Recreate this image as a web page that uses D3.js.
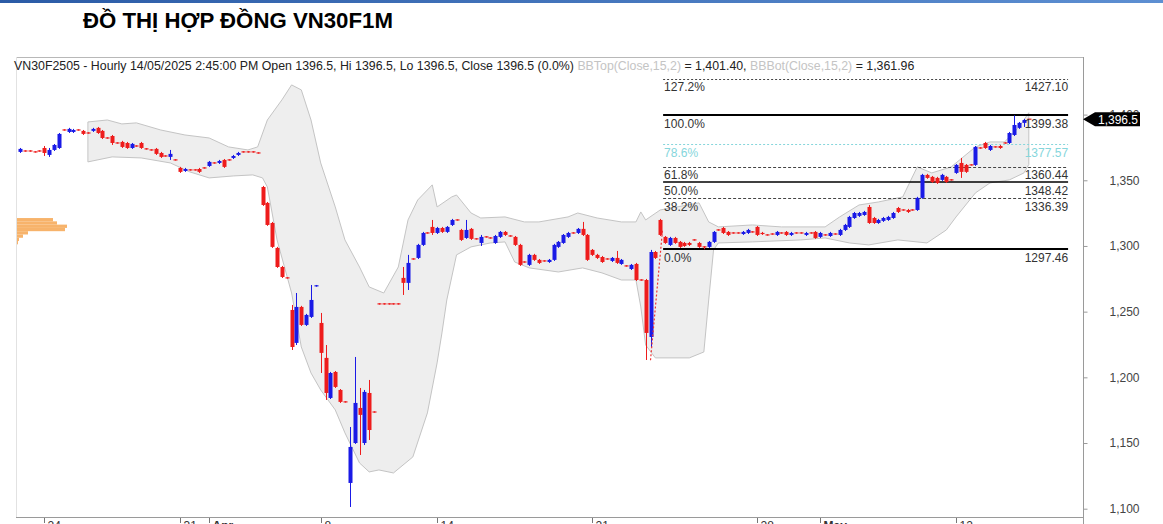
<!DOCTYPE html>
<html><head><meta charset="utf-8">
<script src="https://cdn.jsdelivr.net/npm/d3@7"></script>
<style>body{margin:0;background:#fff;overflow:hidden} svg{display:block;font-family:Arial,"Liberation Sans",sans-serif}</style>
</head><body><svg id="c" width="1163" height="524"></svg>
<script>
// ---- data (prices) ----
const candles = [ // [open, high, low, close]
[1371.6,1374.6,1370.8,1373.9],[1372.3,1372.8,1371.8,1372.3],[1372.3,1372.8,1371.8,1372.3],[1371.6,1372.1,1371.1,1371.6],[1372.3,1372.8,1371.8,1372.3],
[1374.6,1376.1,1368.5,1370.8],[1369.3,1374.6,1367.8,1373.1],[1373.1,1377.6,1372.3,1376.9],[1374.6,1386.0,1373.9,1385.3],[1388.3,1388.8,1387.8,1388.3],
[1386.8,1389.9,1386.0,1389.1],[1386.8,1389.1,1386.0,1388.3],[1388.3,1388.8,1387.8,1388.3],[1387.6,1388.3,1384.5,1385.3],[1386.0,1386.5,1385.5,1386.0],
[1387.6,1389.9,1386.8,1389.1],[1389.9,1390.6,1385.3,1386.0],[1387.6,1388.3,1381.4,1382.2],[1382.2,1382.7,1381.7,1382.2],[1383.7,1384.5,1376.9,1378.4],
[1378.4,1378.9,1377.9,1378.4],[1379.2,1380.0,1374.6,1375.4],[1378.4,1379.2,1373.9,1374.6],[1374.6,1378.4,1373.9,1377.7],[1376.1,1376.6,1375.6,1376.1],
[1378.4,1379.2,1373.9,1374.6],[1373.9,1374.4,1373.4,1373.9],[1373.1,1373.6,1372.6,1373.1],[1373.9,1374.6,1369.3,1370.1],[1370.8,1371.6,1367.0,1367.8],
[1368.5,1369.0,1368.0,1368.5],[1367.8,1373.1,1365.5,1370.1],[1365.5,1366.0,1365.0,1365.5],[1359.4,1360.2,1355.6,1356.4],[1357.1,1359.4,1356.4,1358.6],
[1357.9,1358.4,1357.4,1357.9],[1357.9,1358.4,1357.4,1357.9],[1358.6,1359.4,1355.6,1356.4],[1359.4,1359.9,1358.9,1359.4],[1360.9,1364.7,1360.2,1364.0],
[1363.2,1363.7,1362.7,1363.2],[1363.2,1365.5,1362.4,1364.7],[1365.5,1366.2,1359.4,1360.2],[1365.5,1366.0,1365.0,1365.5],[1367.0,1369.3,1366.2,1368.5],
[1369.3,1371.6,1368.5,1370.8],[1371.6,1372.1,1371.1,1371.6],[1371.6,1372.1,1371.1,1371.6],[1371.6,1372.1,1371.1,1371.6],[1370.8,1371.3,1370.3,1370.8],
[1344.9,1345.7,1330.5,1331.2],[1332.8,1333.5,1315.3,1316.0],[1317.5,1318.3,1298.5,1299.3],[1298.5,1299.3,1283.3,1284.0],[1284.0,1284.8,1275.6,1276.4],
[1275.7,1276.2,1275.2,1275.7],[1251.3,1255.1,1220.8,1223.1],[1226.2,1264.2,1224.6,1253.6],[1253.6,1254.4,1239.1,1239.9],[1239.9,1248.3,1239.1,1247.5],
[1246.0,1270.3,1245.2,1258.9],[1269.5,1270.3,1269.0,1269.8],[1241.4,1249.0,1203.3,1218.6],[1214.8,1224.6,1182.8,1188.1],[1184.3,1204.1,1183.5,1203.3],
[1204.1,1204.8,1191.9,1192.7],[1190.4,1191.1,1180.5,1181.3],[1181.3,1181.8,1180.8,1181.3],[1119.6,1162.2,1101.3,1147.0],[1150.0,1215.5,1149.3,1180.5],
[1176.7,1191.9,1140.9,1171.4],[1150.0,1190.4,1148.5,1188.9],[1188.1,1198.0,1152.3,1159.9],[1173.6,1174.1,1173.1,1173.6],[1255.9,1256.4,1255.4,1255.9],
[1255.9,1256.4,1255.4,1255.9],[1255.9,1256.4,1255.4,1255.9],[1255.9,1256.4,1255.4,1255.9],[1255.9,1256.4,1255.4,1255.9],[1275.7,1284.0,1262.7,1271.9],
[1271.9,1293.2,1266.5,1287.1],[1290.1,1290.6,1289.6,1290.1],[1290.9,1301.6,1290.1,1300.8],[1300.8,1310.7,1300.0,1309.9],[1309.9,1310.4,1309.4,1309.9],
[1314.5,1319.8,1308.4,1309.9],[1309.9,1314.5,1309.1,1313.7],[1313.7,1314.5,1309.9,1310.7],[1310.7,1315.2,1309.9,1314.5],[1316.0,1320.6,1315.2,1319.8],
[1319.8,1320.3,1319.3,1319.8],[1312.2,1313.0,1303.8,1304.6],[1306.1,1319.8,1305.4,1312.2],[1313.0,1313.7,1304.6,1305.4],[1305.4,1305.9,1304.9,1305.4],
[1302.3,1308.4,1300.0,1306.9],[1306.9,1307.4,1306.4,1306.9],[1306.1,1306.6,1305.6,1306.1],[1302.3,1308.4,1301.6,1307.6],[1306.9,1311.4,1306.1,1310.7],
[1310.7,1311.4,1307.6,1308.4],[1307.6,1308.1,1307.1,1307.6],[1306.9,1307.6,1300.0,1300.8],[1300.8,1301.6,1284.8,1285.6],[1287.8,1288.3,1287.3,1287.8],
[1285.6,1294.0,1284.8,1293.2],[1293.2,1294.0,1288.6,1289.4],[1289.4,1290.1,1286.3,1287.1],[1288.6,1289.1,1288.1,1288.6],[1287.8,1290.1,1287.1,1289.4],
[1289.4,1301.6,1288.6,1300.8],[1299.3,1303.8,1298.5,1303.1],[1302.3,1309.1,1301.6,1308.4],[1306.9,1310.7,1306.1,1309.9],[1309.9,1310.4,1309.4,1309.9],
[1309.9,1313.7,1309.1,1313.0],[1313.0,1318.3,1307.6,1308.4],[1308.4,1309.1,1288.6,1289.4],[1297.0,1297.7,1292.4,1293.2],[1293.2,1294.0,1290.1,1290.9],
[1291.6,1292.4,1287.1,1287.8],[1290.1,1290.6,1289.6,1290.1],[1288.6,1291.6,1287.8,1290.9],[1290.9,1296.2,1286.3,1287.1],[1286.3,1290.1,1285.6,1289.4],
[1284.8,1285.3,1284.3,1284.8],[1282.5,1286.3,1281.7,1285.6],[1286.3,1287.1,1273.3,1274.1],[1274.1,1274.6,1273.6,1274.1],[1274.1,1274.9,1213.2,1233.8],
[1230.7,1297.0,1223.1,1295.4],[1295.4,1296.2,1290.1,1290.9],[1319.8,1320.6,1307.6,1308.4],[1306.9,1307.6,1301.6,1302.3],[1300.8,1306.9,1300.0,1306.1],
[1306.1,1306.9,1301.6,1302.3],[1303.1,1303.8,1298.5,1299.3],[1302.3,1303.1,1299.3,1300.0],[1302.3,1303.1,1300.0,1300.8],[1304.6,1305.1,1304.1,1304.6],
[1302.3,1303.1,1298.5,1299.3],[1299.3,1299.8,1297.5,1299.3],[1299.3,1303.8,1298.5,1303.1],[1303.1,1311.4,1302.3,1310.7],[1312.2,1312.7,1311.7,1312.2],
[1313.7,1314.5,1309.1,1309.9],[1310.7,1311.4,1307.6,1308.4],[1309.9,1310.4,1309.4,1309.9],[1309.9,1310.4,1309.4,1309.9],[1309.1,1311.4,1308.4,1310.7],
[1309.9,1313.0,1309.1,1312.2],[1310.7,1311.2,1310.2,1310.7],[1314.5,1315.2,1307.6,1308.4],[1309.9,1310.7,1308.4,1309.1],[1308.4,1308.9,1307.9,1308.4],
[1309.1,1309.6,1308.6,1309.1],[1308.4,1311.4,1307.6,1310.7],[1309.9,1310.4,1309.4,1309.9],[1310.7,1311.4,1307.6,1308.4],[1308.4,1310.7,1307.6,1309.9],
[1309.9,1310.4,1309.4,1309.9],[1309.9,1310.4,1309.4,1309.9],[1308.4,1310.7,1307.6,1309.9],[1309.9,1310.4,1309.4,1309.9],[1310.7,1311.4,1305.4,1306.1],
[1306.9,1310.7,1306.1,1309.9],[1308.4,1308.9,1307.9,1308.4],[1307.6,1310.7,1306.9,1309.9],[1309.1,1309.6,1308.6,1309.1],[1308.4,1313.0,1307.6,1312.2],
[1312.2,1316.8,1311.4,1316.0],[1314.5,1322.9,1313.7,1322.1],[1321.3,1325.9,1320.6,1325.1],[1322.9,1325.9,1322.1,1325.1],[1323.6,1326.7,1322.9,1325.9],
[1329.7,1331.2,1316.8,1317.5],[1321.3,1322.1,1316.8,1317.5],[1317.5,1320.6,1316.8,1319.8],[1319.1,1322.1,1318.3,1321.3],[1319.8,1322.9,1319.1,1322.1],
[1321.3,1325.9,1320.6,1325.1],[1328.9,1329.7,1325.1,1325.9],[1327.4,1327.9,1326.9,1327.4],[1327.4,1328.2,1325.1,1325.9],[1327.4,1327.9,1326.9,1327.4],
[1327.4,1337.4,1326.7,1336.6],[1336.6,1354.9,1335.9,1354.1],[1354.1,1354.9,1351.1,1351.8],[1352.6,1353.3,1348.0,1348.7],[1351.8,1352.6,1347.2,1348.0],
[1350.3,1354.9,1349.5,1354.1],[1352.6,1353.3,1348.0,1348.7],[1350.3,1350.8,1349.8,1350.3],[1355.6,1362.4,1354.9,1361.7],[1363.2,1367.0,1351.8,1356.4],
[1361.7,1362.4,1355.6,1356.4],[1361.7,1362.2,1361.2,1361.7],[1361.7,1376.1,1360.9,1375.4],[1374.6,1375.1,1374.1,1374.6],[1378.4,1379.2,1373.9,1374.6],
[1373.1,1376.9,1372.3,1376.1],[1375.4,1375.9,1374.9,1375.4],[1376.1,1376.9,1373.9,1374.6],[1378.4,1378.9,1377.9,1378.4],[1378.4,1386.8,1377.6,1386.0],
[1384.5,1399.4,1383.7,1392.1],[1389.9,1394.4,1389.1,1393.7],[1393.7,1396.7,1390.6,1395.9],[1396.5,1396.5,1396.5,1396.5]
];
const bbTop = [[14,1394.4],[18,1395.9],[21,1392.9],[24,1393.7],[29,1388.3],[34,1384.5],[39,1382.2],[43,1375.4],[47,1373.1],[49,1375.4],
[51,1395.9],[54,1411.2],[56,1422.6],[58,1418.8],[60,1395.9],[62,1363.2],[65,1329.7],[67,1304.6],[70,1284.0],[72,1268.8],[75,1264.2],
[78,1284.0],[80,1319.8],[82,1335.0],[85,1346.5],[86,1329.7],[89,1337.3],[90,1338.8],[93,1325.1],[95,1321.3],[100,1322.1],[104,1318.3],
[107,1318.3],[113,1322.1],[115,1325.1],[119,1321.3],[124,1318.3],[127,1318.3],[128,1325.9],[129,1319.8],[132,1327.4],[140,1332.8],
[142,1318.3],[144,1314.5],[151,1316.0],[157,1314.5],[166,1314.5],[169,1322.1],[173,1331.2],[177,1333.5],[182,1337.3],[185,1360.2],
[188,1355.6],[192,1360.2],[197,1375.4],[200,1379.2],[203,1379.2],[206,1390.6],[208,1401.4]];
const bbBot = [[14,1364.0],[19,1367.8],[25,1367.0],[31,1363.2],[35,1356.4],[39,1351.8],[44,1353.3],[48,1354.1],[50,1351.8],[51,1344.9],
[53,1304.6],[56,1264.2],[58,1223.1],[60,1203.3],[62,1190.4],[65,1175.2],[67,1157.7],[70,1134.8],[72,1128.0],[74,1129.5],[77,1127.2],
[81,1139.4],[84,1172.9],[86,1211.0],[87,1233.8],[88,1258.9],[90,1293.2],[93,1299.3],[97,1302.3],[100,1303.1],[102,1287.8],[105,1283.3],
[111,1280.2],[116,1283.3],[120,1279.5],[124,1274.1],[127,1274.1],[128,1253.6],[129,1224.6],[131,1214.8],[138,1214.8],[141,1219.3],
[142,1258.9],[143,1297.0],[144,1302.3],[151,1303.1],[161,1304.6],[166,1306.1],[171,1302.3],[175,1300.8],[181,1304.6],[187,1302.3],
[191,1312.2],[193,1322.1],[197,1340.4],[200,1348.0],[204,1350.3],[207,1355.6],[208,1362.0]];
const fibLabels = ["127.2%","100.0%","78.6%","61.8%","50.0%","38.2%","0.0%"];
const fibValues = [1427.10,1399.38,1377.57,1360.44,1348.42,1336.39,1297.46];
const fibRange = [132.6, 216.1];           // bar index span of the retracement tool
const trendLine = [[130,1213],[132.5,1313]];
const yTicks = [1100,1150,1200,1250,1300,1350,1400];
const xTickIdx = [5,33,39,62,86,118,152,165,193];
const xTickLabels = ["24","31","Apr","8","14","21","28","May","12"];
const volPrices = [1320.0,1317.5,1315.0,1312.5,1310.0,1307.5,1305.0,1302.5];
const volValues = [36,40,50,48,11,6,2,1];
const lastPrice = 1396.5;
const headerParts = [
  ["VN30F2505 - Hourly 14/05/2025 2:45:00 PM Open 1396.5, Hi 1396.5, Lo 1396.5, Close 1396.5 (0.0%) ","#222"],
  ["BBTop(Close,15,2)","#c4c4c4"],[" = 1,401.40, ","#222"],["BBBot(Close,15,2)","#c4c4c4"],[" = 1,361.96","#222"]];

// ---- drawing ----
const svg = d3.select("#c");
const L = 16, R = 1083, T = 57, B = 517;
const x = d3.scaleLinear().domain([0, 208]).range([20, 1028.8]);
const y = d3.scaleLinear().domain([1100, 1400]).range([508.7, 114.6]);

// top strip
const grad = svg.append("defs").append("linearGradient").attr("id","g1");
grad.append("stop").attr("offset","0").attr("stop-color","#2b5ba6");
grad.append("stop").attr("offset","1").attr("stop-color","#5d8fd2");
svg.append("rect").attr("x",0).attr("y",0).attr("width",1163).attr("height",3).attr("fill","url(#g1)");

svg.select("defs").append("clipPath").attr("id","clip").append("rect")
  .attr("x",L).attr("y",T).attr("width",R-L).attr("height",B-T);

// title
const title = svg.append("text").attr("x",83).attr("y",28).attr("font-weight","bold")
  .attr("font-size",24).attr("fill","#000").text("ĐỒ THỊ HỢP ĐỒNG VN30F1M");
const tw = title.node().getComputedTextLength();
title.attr("font-size", 24*310/tw);

// frame
svg.append("line").attr("x1",L).attr("x2",R).attr("y1",T+0.5).attr("y2",T+0.5).attr("stroke","#b8b8b8");
svg.append("line").attr("x1",L+0.5).attr("x2",L+0.5).attr("y1",T).attr("y2",B).attr("stroke","#e2e2e2");

const plot = svg.append("g").attr("clip-path","url(#clip)");

// bollinger band area
const pts = bbTop.concat(bbBot.slice().reverse());
const line = d3.line().x(d=>x(d[0])).y(d=>y(d[1]));
plot.append("path").attr("d", line(pts)+"Z").attr("fill","#eeeeee").attr("stroke","#c4c4c4").attr("stroke-width",1);

// volume profile
const vx = d3.scaleLinear().domain([0,50]).range([L+1, 67]);
const step = Math.abs(y(volPrices[0]) - y(volPrices[1]));
plot.selectAll(".vp").data(volPrices).join("rect")
  .attr("x",L+1).attr("y",(d)=>y(d)-step/2).attr("height",step)
  .attr("width",(d,i)=>vx(volValues[i])-(L+1)).attr("fill","#f7b36b");

// fib lines
const fibStyle = [
  {c:"#444",w:1,dash:"2,2"},{c:"#000",w:2,dash:null},{c:"#86d6dc",w:1,dash:"2,2"},
  {c:"#444",w:1,dash:"3,2"},{c:"#000",w:1.3,dash:null},{c:"#444",w:1,dash:"3,2"},{c:"#000",w:2,dash:null}];
fibValues.forEach((v,i)=>{
  const s = fibStyle[i];
  const yy = Math.round(y(v)) + (s.w===1?0.5:0);
  plot.append("line").attr("x1",x(fibRange[0])).attr("x2",x(fibRange[1])).attr("y1",yy).attr("y2",yy)
    .attr("stroke",s.c).attr("stroke-width",s.w).attr("stroke-dasharray",s.dash);
});

// candles
const up = "#1a1ae6", dn = "#ee1c1c";
const cg = plot.append("g");
candles.forEach((d,i)=>{
  const [o,h,l,c] = d;
  const col = c > o ? up : dn;
  const cx = Math.round(x(i)) + 0.5;
  cg.append("line").attr("x1",cx).attr("x2",cx).attr("y1",y(h)).attr("y2",y(l)).attr("stroke",col).attr("stroke-width",1);
  const top = y(Math.max(o,c)), bot = y(Math.min(o,c));
  const hgt = Math.max(1.2, bot-top);
  cg.append("rect").attr("x",cx-2).attr("y",hgt===1.2?(top+bot)/2-0.6:top).attr("width",4).attr("height",hgt).attr("fill",col);
});

// trend line
plot.append("path").attr("d",line(trendLine)).attr("stroke","#e33").attr("stroke-width",1.2)
  .attr("stroke-dasharray","2,2").attr("fill","none");

// fib labels
fibValues.forEach((v,i)=>{
  const col = i===2 ? "#86d6dc" : "#333";
  const yy = y(v) + 12.5;
  svg.append("text").attr("x",x(fibRange[0])+1).attr("y",yy).attr("font-size",12).attr("fill",col).text(fibLabels[i]);
  svg.append("text").attr("x",x(fibRange[1])).attr("y",yy).attr("font-size",12).attr("fill",col)
    .attr("text-anchor","end").text(v.toFixed(2));
});

// y axis
svg.append("line").attr("x1",R+0.5).attr("x2",R+0.5).attr("y1",T).attr("y2",524).attr("stroke","#9a9a9a");
const yAx = svg.append("g").attr("transform",`translate(${R+0.5},0)`)
  .call(d3.axisRight(y).tickValues(yTicks).tickSize(4).tickPadding(22).tickFormat(d3.format(",")));
yAx.select(".domain").remove();
yAx.selectAll("line").attr("stroke","#9a9a9a");
yAx.selectAll("text").attr("font-size",12).attr("fill","#444").attr("font-family","Arial, 'Liberation Sans', sans-serif");

// x axis
svg.append("line").attr("x1",L).attr("x2",R).attr("y1",B+0.5).attr("y2",B+0.5).attr("stroke","#9a9a9a");
xTickIdx.forEach((t,i)=>{
  const xx = Math.round(x(t))+0.5;
  svg.append("line").attr("x1",xx).attr("x2",xx).attr("y1",B+1).attr("y2",B+6).attr("stroke","#777");
  svg.append("text").attr("x",xx+3).attr("y",B+13).attr("font-size",12).attr("fill","#333")
    .attr("font-weight", /[A-Za-z]/.test(xTickLabels[i]) ? "bold" : "normal").text(xTickLabels[i]);
});

// last price tag
const ty = y(lastPrice);
svg.append("path").attr("d",`M${R},${ty} L${R+12},${ty-7} L${R+57},${ty-7} L${R+57},${ty+7} L${R+12},${ty+7} Z`).attr("fill","#000");
svg.append("text").attr("x",R+55).attr("y",ty+4.5).attr("text-anchor","end").attr("font-size",12).attr("fill","#fff")
  .text(d3.format(",.1f")(lastPrice));

// header
const ht = svg.append("text").attr("x",14).attr("y",70).attr("font-size",12);
headerParts.forEach(p=>ht.append("tspan").attr("fill",p[1]).text(p[0]));
const hw = ht.node().getComputedTextLength();
ht.attr("font-size", 12*901/hw);
</script></body></html>
